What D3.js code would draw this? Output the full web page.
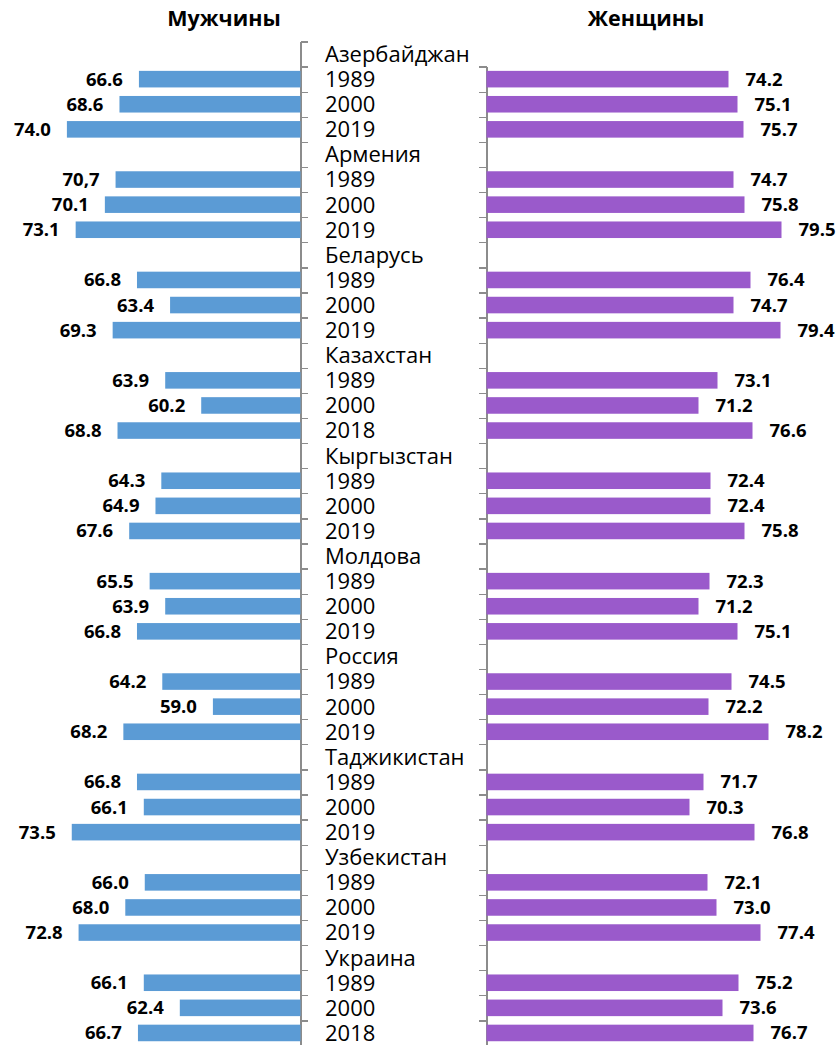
<!DOCTYPE html>
<html>
<head>
<meta charset="utf-8">
<script src="https://cdn.jsdelivr.net/npm/d3@7"></script>
<style>
  body { margin: 0; background: #fff; }
  svg text { font-family: "Open Sans", "Noto Sans", sans-serif; }
  .axis path, .axis line { stroke: #8c8c8c; stroke-width: 1.3; shape-rendering: crispEdges; }
</style>
</head>
<body>
<div id="chart"></div>
<script>
// countries, years for each country (3 rows each)
var countries = ["Азербайджан", "Армения", "Беларусь", "Казахстан", "Кыргызстан",
                 "Молдова", "Россия", "Таджикистан", "Узбекистан", "Украина"];
var years = [[1989, 2000, 2019], [1989, 2000, 2019], [1989, 2000, 2019], [1989, 2000, 2018], [1989, 2000, 2019],
             [1989, 2000, 2019], [1989, 2000, 2019], [1989, 2000, 2019], [1989, 2000, 2019], [1989, 2000, 2018]];

// life expectancy, men (Armenia 1989 bar is drawn at ~69.0 in the source, labelled "70,7")
var male = [66.6, 68.6, 74.0,  69.0, 70.1, 73.1,  66.8, 63.4, 69.3,  63.9, 60.2, 68.8,  64.3, 64.9, 67.6,
            65.5, 63.9, 66.8,  64.2, 59.0, 68.2,  66.8, 66.1, 73.5,  66.0, 68.0, 72.8,  66.1, 62.4, 66.7];
// life expectancy, women
var female = [74.2, 75.1, 75.7,  74.7, 75.8, 79.5,  76.4, 74.7, 79.4,  73.1, 71.2, 76.6,  72.4, 72.4, 75.8,
              72.3, 71.2, 75.1,  74.5, 72.2, 78.2,  71.7, 70.3, 76.8,  72.1, 73.0, 77.4,  75.2, 73.6, 76.7];
// label printed differently from the bar in the source
var maleTextOverride = {3: "70,7"};

var titles = ["Мужчины", "Женщины"];

// build the rows: country name row, then 3 year rows
var rows = [];
countries.forEach(function(c, i){
    rows.push({label: c, type: "country"});
    years[i].forEach(function(y, j){
        var k = i * 3 + j;
        rows.push({label: String(y), type: "year", m: male[k], f: female[k], idx: k});
    });
});
var dataRows = rows.map(function(r, i){ r.row = i; return r; }).filter(function(r){ return r.type == "year"; });

var width = 837, height = 1045;
var fmt = d3.format(".1f");

var svg = d3.select("#chart").append("svg")
    .attr("width", width)
    .attr("height", height);

svg.append("rect").attr("width", width).attr("height", height).attr("fill", "#fff");

var yRow = d3.scaleLinear()
    .domain([0, rows.length])
    .range([41.5, 1045.5]);

var xLeft = d3.scaleLinear()
    .domain([50, 80])
    .range([300.5, 8.5]);

var xRight = d3.scaleLinear()
    .domain([50, 80])
    .range([486.5, 786.5]);

var barPad = 0.17, barH = yRow(0.66) - yRow(0);

// axes (row boundaries)
svg.append("g")
    .attr("class", "axis")
    .attr("transform", "translate(300.5,0)")
    .call(d3.axisRight(yRow).tickValues(d3.range(0, rows.length + 1)).tickFormat("").tickSizeInner(7).tickSizeOuter(0));

var rightScale = yRow.copy().domain([1, rows.length]).range([yRow(1), yRow(rows.length)]);
svg.append("g")
    .attr("class", "axis")
    .attr("transform", "translate(486.5,0)")
    .call(d3.axisLeft(rightScale).tickValues(d3.range(1, rows.length + 1)).tickFormat("").tickSizeInner(8).tickSizeOuter(0));

// men bars
svg.append("g").selectAll("rect")
    .data(dataRows)
    .enter().append("rect")
    .attr("x", function(d){ return xLeft(d.m); })
    .attr("y", function(d){ return yRow(d.row + barPad); })
    .attr("width", function(d){ return xLeft(50) - xLeft(d.m); })
    .attr("height", barH)
    .attr("fill", "#5b9bd5");

// women bars
svg.append("g").selectAll("rect")
    .data(dataRows)
    .enter().append("rect")
    .attr("x", xRight(50))
    .attr("y", function(d){ return yRow(d.row + barPad); })
    .attr("width", function(d){ return xRight(d.f) - xRight(50); })
    .attr("height", barH)
    .attr("fill", "#9a5acb");

// value labels
svg.append("g").selectAll("text")
    .data(dataRows)
    .enter().append("text")
    .attr("x", function(d){ return xLeft(d.m) - 16; })
    .attr("y", function(d){ return yRow(d.row + 0.5); })
    .attr("dy", "0.35em")
    .attr("text-anchor", "end")
    .style("font-size", "18.5px")
    .style("font-weight", "bold")
    .text(function(d){ return maleTextOverride[d.idx] || fmt(d.m); });

svg.append("g").selectAll("text")
    .data(dataRows)
    .enter().append("text")
    .attr("x", function(d){ return xRight(d.f) + 17; })
    .attr("y", function(d){ return yRow(d.row + 0.5); })
    .attr("dy", "0.35em")
    .style("font-size", "18.5px")
    .style("font-weight", "bold")
    .text(function(d){ return fmt(d.f); });

// category labels in the middle
svg.append("g").selectAll("text")
    .data(rows)
    .enter().append("text")
    .attr("x", 325)
    .attr("y", function(d, i){ return yRow(i + 0.5); })
    .attr("dy", "0.36em")
    .style("font-size", "22px")
    .attr("fill", "#000")
    .text(function(d){ return d.label; });

// titles
svg.selectAll(".title")
    .data(titles)
    .enter().append("text")
    .attr("class", "title")
    .attr("x", function(d, i){ return i == 0 ? 224 : 646; })
    .attr("y", 26)
    .attr("text-anchor", "middle")
    .style("font-size", "21.5px")
    .style("font-weight", "bold")
    .text(function(d){ return d; });
</script>
</body>
</html>
